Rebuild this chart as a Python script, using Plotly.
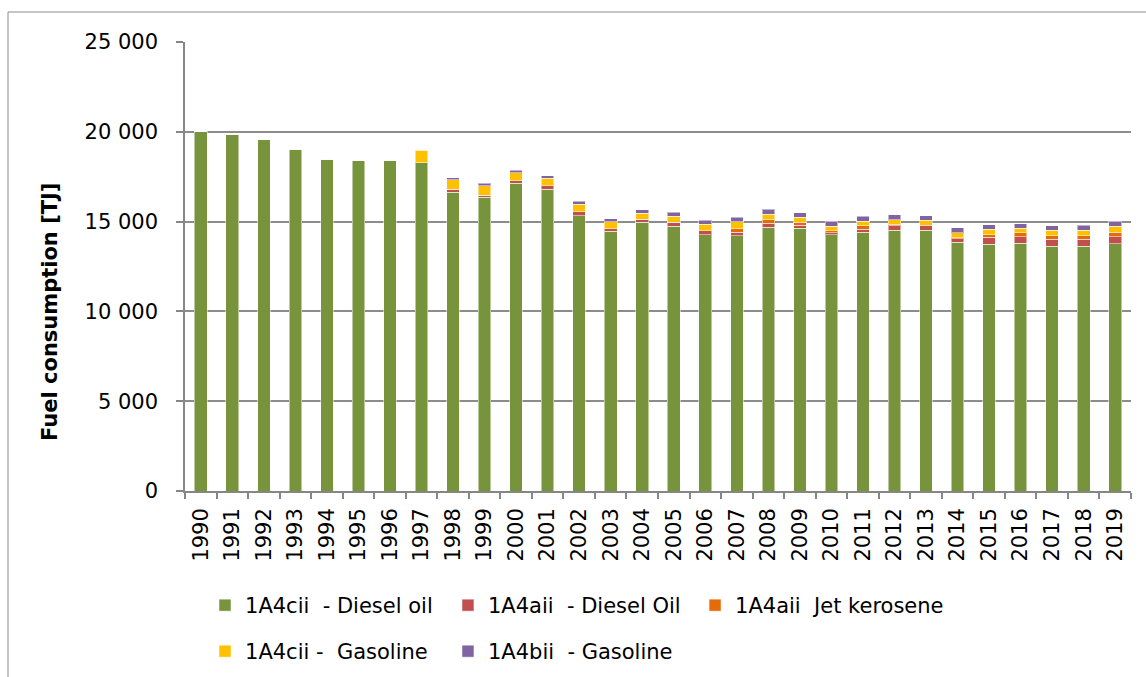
import plotly.graph_objects as go

years = [str(y) for y in range(1990, 2020)]

diesel_4cii = [20000, 19860, 19580, 19025, 18470, 18375, 18410, 18280, 16630, 16350,
               17130, 16800, 15330, 14460, 14977, 14755, 14270, 14200, 14680, 14625,
               14270, 14400, 14515, 14515, 13864, 13737, 13790, 13640, 13640, 13770]
diesel_4aii = [0, 0, 0, 0, 0, 0, 0, 0, 170, 130,
               150, 185, 205, 150, 167, 204, 223, 204, 241, 167,
               111, 186, 241, 241, 186, 390, 371, 371, 371, 390]
jet_4aii = [0, 0, 0, 0, 0, 0, 0, 0, 0, 0,
            0, 0, 0, 0, 0, 0, 0, 204, 186, 186,
            111, 186, 93, 40, 56, 148, 223, 204, 204, 241]
gasoline_4cii = [0, 0, 0, 0, 0, 0, 0, 690, 520, 520,
                 445, 430, 445, 370, 334, 334, 352, 371, 297, 260,
                 260, 260, 260, 278, 278, 297, 241, 297, 297, 352]
gasoline_4bii = [0, 0, 0, 0, 0, 0, 0, 0, 130, 130,
                 130, 150, 167, 167, 185, 223, 223, 260, 278, 260,
                 260, 260, 260, 260, 260, 260, 260, 260, 278, 260]

series = [
    ("1A4cii\u00a0\u00a0- Diesel oil", diesel_4cii, "#77933C"),
    ("1A4aii\u00a0\u00a0- Diesel Oil", diesel_4aii, "#C0504D"),
    ("1A4aii\u00a0\u00a0Jet kerosene", jet_4aii, "#E36C09"),
    ("1A4cii -\u00a0\u00a0Gasoline", gasoline_4cii, "#FFC000"),
    ("1A4bii\u00a0\u00a0- Gasoline", gasoline_4bii, "#8064A2"),
]
legend_ids = ["legend", "legend2", "legend3", "legend4", "legend5"]
legend_x = [0.1789, 0.3909, 0.6065, 0.1789, 0.3909]
legend_y = [0.1359, 0.1359, 0.1359, 0.0679, 0.0679]

FONT = "DejaVu Sans, sans-serif"

fig = go.Figure()
for (name, vals, col), lg in zip(series, legend_ids):
    fig.add_trace(go.Bar(
        x=years, y=vals, name=name, legend=lg,
        marker=dict(color=col, line=dict(color="rgba(255,255,255,0.5)", width=1)),
    ))

legends = {}
for lg, lx, ly in zip(legend_ids, legend_x, legend_y):
    legends[lg] = dict(
        orientation="h", xref="container", yref="container",
        x=lx, y=ly, xanchor="left", yanchor="top",
        font=dict(family=FONT, size=21, color="black"),
        itemwidth=30, bgcolor="rgba(0,0,0,0)",
    )

fig.update_layout(
    width=1146, height=677,
    barmode="stack", bargap=0.6,
    plot_bgcolor="white", paper_bgcolor="white",
    separators=", ",
    font=dict(family=FONT, size=21, color="black"),
    margin=dict(l=185, r=15, t=42, b=186),
    showlegend=True,
    **legends,
    xaxis=dict(
        type="category", tickangle=-90, tickson="boundaries",
        ticks="outside", ticklen=6, tickcolor="#868686", tickwidth=1.5,
        showline=True, linecolor="#868686", linewidth=1.5,
        ticklabelstandoff=7,
        showgrid=False, tickfont=dict(family=FONT, size=21),
        automargin=False,
    ),
    yaxis=dict(
        range=[0, 25000], dtick=5000, tickformat=",d",
        showgrid=True, gridcolor="#8c8c8c", gridwidth=1.5,
        showline=True, linecolor="#868686", linewidth=1.5,
        ticks="outside", ticklen=7, tickcolor="#868686", tickwidth=1.5,
        ticklabelstandoff=14,
        zeroline=False, tickfont=dict(family=FONT, size=21),
        automargin=False,
    ),
    annotations=[dict(
        text="<b>Fuel consumption [TJ]</b>", textangle=-90,
        xref="paper", yref="paper", x=-0.1427, y=0.3987,
        xanchor="center", yanchor="middle", showarrow=False,
        font=dict(family=FONT, size=21, color="black"),
    )],
    shapes=[dict(type="rect", xref="paper", yref="paper",
                 x0=-0.1871, x1=1.05, y0=-0.45, y1=1.0668,
                 line=dict(color="#8c8c8c", width=1), layer="below")],
)

fig.write_html("out.html", config={"displayModeBar": False},
               post_script="document.body.style.margin='0px';")
